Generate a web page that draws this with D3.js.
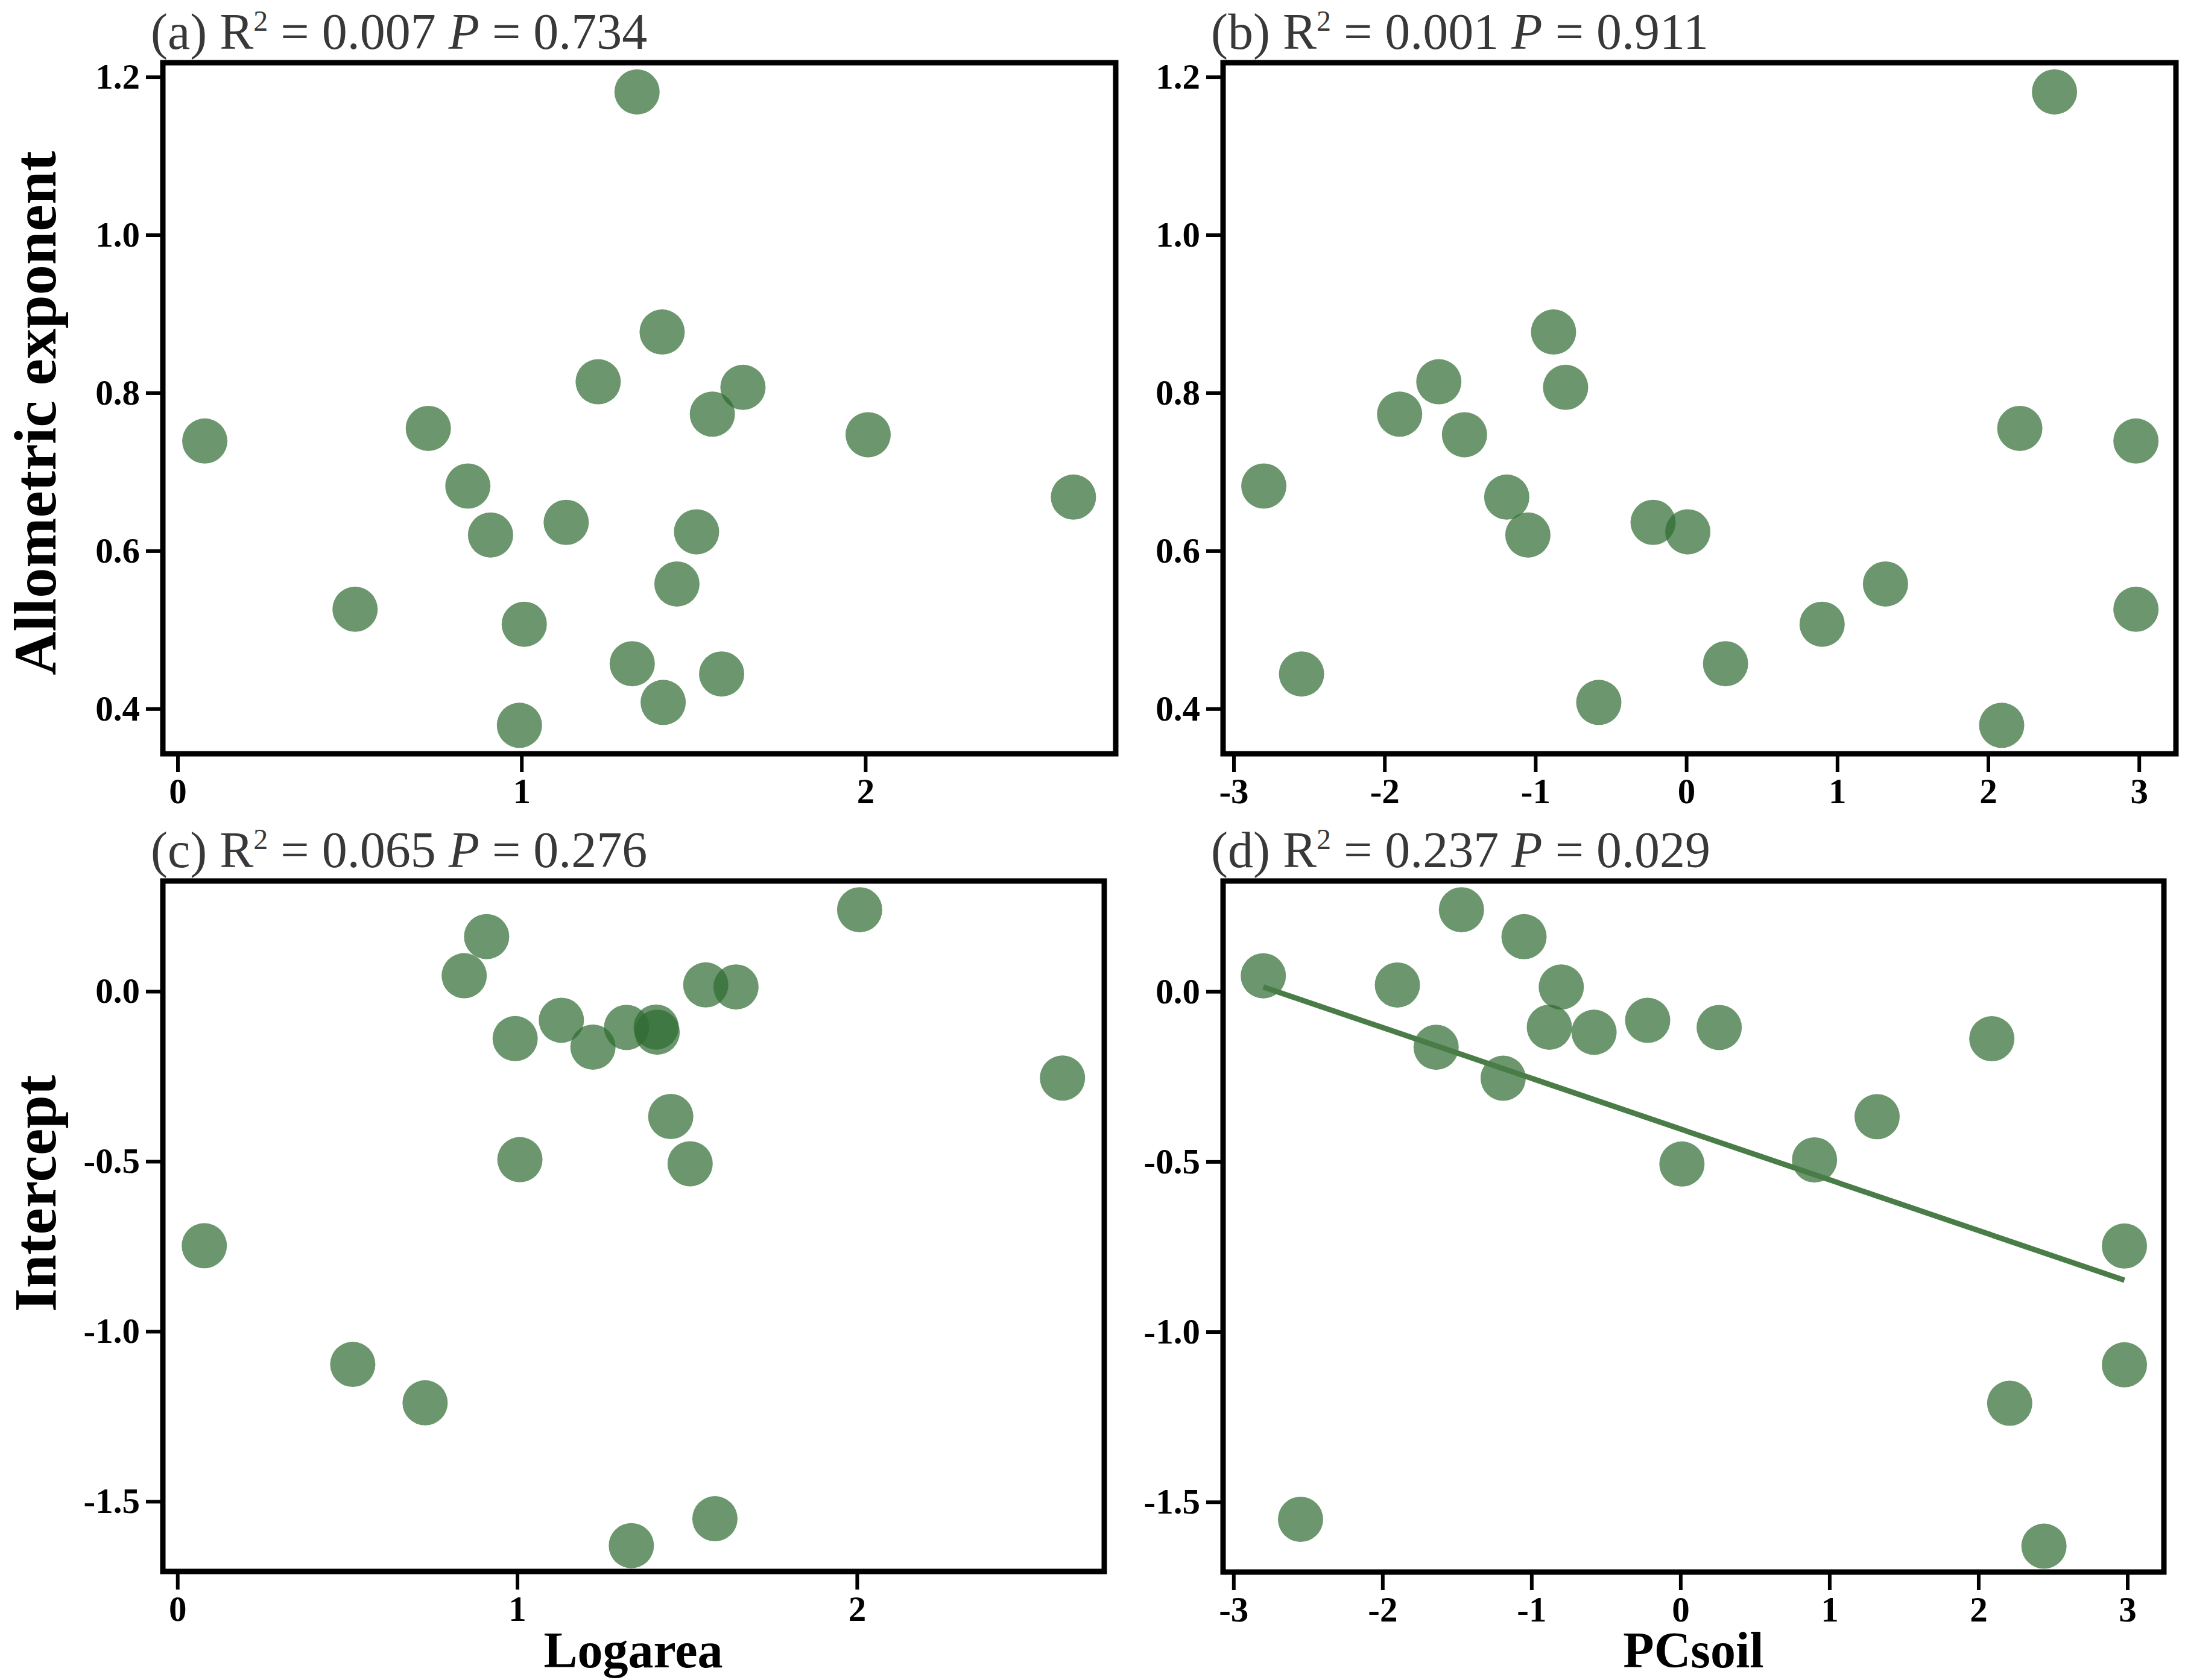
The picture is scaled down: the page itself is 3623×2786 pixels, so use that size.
<!DOCTYPE html>
<html>
<head>
<meta charset="utf-8">
<script src="https://cdn.jsdelivr.net/npm/d3@7"></script>
<style>
  html, body { margin: 0; padding: 0; background: #fff; }
  svg { display: block; font-family: 'Liberation Serif', 'Times New Roman', serif; }
</style>
</head>
<body>
<svg id="chart" width="3623" height="2786"></svg>
<script>
// one value per site, same order in every array
const logArea = [1.336, 1.409, 1.223, 1.644, 1.555, 0.729, 2.008, 0.079, 0.844, 2.605,
  1.130, 1.509, 0.910, 1.452, 0.516, 1.008, 1.322, 1.582, 1.412, 0.994]
const pcSoil = [2.44, -0.88, -1.64, -0.80, -1.90, 2.21, -1.47, 2.98, -2.80, -1.19,
  -0.22, 0.01, -1.05, 1.32, 2.98, 0.90, 0.26, -2.55, -0.58, 2.09]
const exponent = [1.181, 0.877, 0.814, 0.807, 0.773, 0.755, 0.747, 0.739, 0.682, 0.668,
  0.636, 0.624, 0.620, 0.558, 0.526, 0.507, 0.457, 0.444, 0.408, 0.379]
const intercept = [-1.630, -0.105, -0.164, 0.013, 0.019, -1.210, 0.240, -0.748, 0.046, -0.255,
  -0.085, -0.507, 0.161, -0.368, -1.097, -0.495, -0.106, -1.551, -0.120, -0.139]

const logAreaTicks = [0, 1, 2]
const pcSoilTicks = [-3, -2, -1, 0, 1, 2, 3]
const exponentTicks = [0.4, 0.6, 0.8, 1.0, 1.2]
const interceptTicks = [-1.5, -1.0, -0.5, 0.0]

const panelStats = [
  {tag: '(a)', r2: '0.007', p: '0.734'},
  {tag: '(b)', r2: '0.001', p: '0.911'},
  {tag: '(c)', r2: '0.065', p: '0.276'},
  {tag: '(d)', r2: '0.237', p: '0.029'}
]

const svg = d3.select('#chart')
svg.append('rect').attr('width', 3623).attr('height', 2786).attr('fill', '#fff')

const domains = {
  logArea: [-0.043, 2.728],
  pcSoil: [-3.07, 3.245],
  exponent: [0.343, 1.218],
  intercept: [-1.706, 0.3245]
}

const panels = [
  {box: [270, 104, 1850, 1250], x: logArea, y: exponent, xd: 'logArea', yd: 'exponent', xt: logAreaTicks, yt: exponentTicks, stat: panelStats[0]},
  {box: [2028, 104, 3608, 1250], x: pcSoil, y: exponent, xd: 'pcSoil', yd: 'exponent', xt: pcSoilTicks, yt: exponentTicks, stat: panelStats[1]},
  {box: [270, 1461, 1831, 2606], x: logArea, y: intercept, xd: 'logArea', yd: 'intercept', xt: logAreaTicks, yt: interceptTicks, stat: panelStats[2]},
  {box: [2028, 1461, 3588, 2607], x: pcSoil, y: intercept, xd: 'pcSoil', yd: 'intercept', xt: pcSoilTicks, yt: interceptTicks, stat: panelStats[3], fit: true}
]

const linearFit = (xs, ys) => {
  const mx = d3.mean(xs), my = d3.mean(ys)
  const sxy = d3.sum(xs, (v, i) => (v - mx) * (ys[i] - my))
  const sxx = d3.sum(xs, v => (v - mx) * (v - mx))
  const slope = sxy / sxx
  return {slope, icpt: my - slope * mx}
}

panels.forEach(p => {
  const [x0, y0, x1, y1] = p.box
  const x = d3.scaleLinear().domain(domains[p.xd]).range([x0, x1])
  const y = d3.scaleLinear().domain(domains[p.yd]).range([y1, y0])
  const g = svg.append('g')

  // panel title: (a) R² = ... P = ...
  const title = g.append('text')
    .attr('x', x0 - 20).attr('y', y0 - 23)
    .attr('font-size', 84).attr('fill', '#383838')
  title.append('tspan').text(`${p.stat.tag} R`)
  title.append('tspan').attr('font-size', 48).attr('dy', -30).text('2')
  title.append('tspan').attr('dy', 30).text(` = ${p.stat.r2} `)
  title.append('tspan').attr('font-style', 'italic').text('P')
  title.append('tspan').text(` = ${p.stat.p}`)

  const xAxis = g.append('g').attr('transform', `translate(0,${y1})`)
    .call(d3.axisBottom(x).tickValues(p.xt).tickFormat(d => String(d)).tickSize(30).tickSizeOuter(0).tickPadding(10))
  const yAxis = g.append('g').attr('transform', `translate(${x0},0)`)
    .call(d3.axisLeft(y).tickValues(p.yt).tickFormat(d => d.toFixed(1)).tickSize(28).tickSizeOuter(0).tickPadding(10))
  ;[xAxis, yAxis].forEach(a => {
    a.select('.domain').remove()
    a.selectAll('line').attr('stroke', '#000').attr('stroke-width', 6)
    a.selectAll('text').attr('fill', '#000').attr('font-size', 59).attr('font-weight', 'bold')
      .attr('font-family', "'Liberation Serif', serif")
  })

  g.append('g').selectAll('circle').data(p.x.map((v, i) => [v, p.y[i]])).join('circle')
    .attr('cx', d => x(d[0])).attr('cy', d => y(d[1])).attr('r', 37.5)
    .attr('fill', '#2e6b30').attr('fill-opacity', 0.7)

  if (p.fit) {
    const {slope, icpt} = linearFit(p.x, p.y)
    const ext = d3.extent(p.x)
    g.append('path')
      .attr('d', d3.line().x(d => x(d)).y(d => y(icpt + slope * d))(ext))
      .attr('stroke', '#4a7c48').attr('stroke-width', 9).attr('fill', 'none')
  }

  g.append('rect').attr('x', x0).attr('y', y0).attr('width', x1 - x0).attr('height', y1 - y0)
    .attr('fill', 'none').attr('stroke', '#000').attr('stroke-width', 9)
})

// shared axis titles
const axisTitle = (txt, tx, ty, rot, size) => svg.append('text')
  .attr('transform', `translate(${tx},${ty}) rotate(${rot})`)
  .attr('text-anchor', 'middle').attr('font-weight', 'bold').attr('font-size', size)
  .attr('fill', '#000').text(txt)

axisTitle('Allometric exponent', 92, 685, -90, 100)
axisTitle('Intercept', 92, 1979, -90, 100)
axisTitle('Logarea', 1050, 2765, 0, 84)
axisTitle('PCsoil', 2808, 2765, 0, 84)
</script>
</body>
</html>
